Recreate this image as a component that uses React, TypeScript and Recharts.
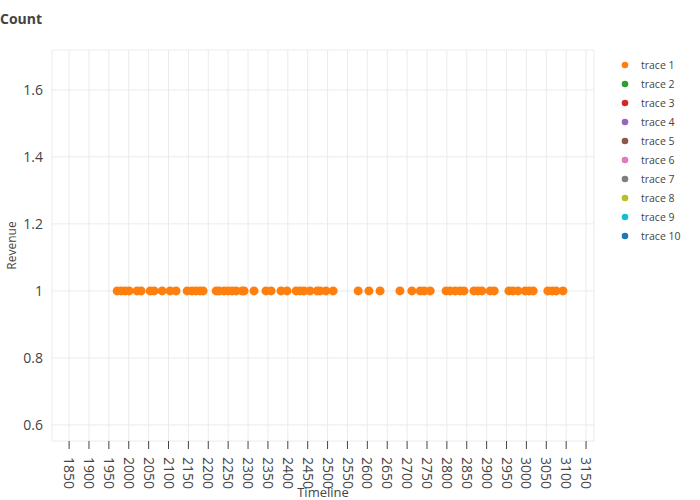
import { CartesianGrid, Scatter, ScatterChart, XAxis, YAxis, ZAxis } from "recharts";

const timeline = [
    1971, 1981, 1991, 2001, 2021, 2031, 2054, 2064, 2084, 2104, 2119, 2147, 2159, 2169, 2179, 2187,
    2220, 2227, 2240, 2250, 2260, 2270, 2285, 2290, 2315, 2345, 2358, 2383, 2398, 2421, 2431, 2441,
    2456, 2474, 2481, 2496, 2514, 2577, 2604, 2632, 2682, 2712, 2733, 2743, 2758, 2798, 2808, 2821,
    2833, 2843, 2868, 2878, 2888, 2909, 2919, 2956, 2966, 2979, 2997, 3007, 3017, 3054, 3065, 3075, 3092,
];
const revenue = timeline.map(() => 1);

const traceNames = ["trace 1", "trace 2", "trace 3", "trace 4", "trace 5", "trace 6", "trace 7", "trace 8", "trace 9", "trace 10"];
const traceColors = ["#ff7f0e", "#2ca02c", "#d62728", "#9467bd", "#8c564b", "#e377c2", "#7f7f7f", "#bcbd22", "#17becf", "#1f77b4"];

const xTicks = [1850, 1900, 1950, 2000, 2050, 2100, 2150, 2200, 2250, 2300, 2350, 2400, 2450, 2500, 2550, 2600,
    2650, 2700, 2750, 2800, 2850, 2900, 2950, 3000, 3050, 3100, 3150];
const yTicks = [0.6, 0.8, 1, 1.2, 1.4, 1.6];

const FONT = '"Open Sans", "Noto Sans", sans-serif';

const trace1 = timeline.map((t, i) => ({ x: t, y: revenue[i] }));

const XTick = (props: any) => {
    const { x, y, payload } = props;
    return (
        <g transform={`translate(${x},${y})`}>
            <text transform="rotate(90)" textAnchor="start" dy="0.35em" fontSize={14} fill="#444" fontFamily={FONT}>
                {payload.value}
            </text>
        </g>
    );
};

// legend drawn by hand so it keeps trace order and doesn't eat plot width
const TraceLegend = () => (
    <div style={{ position: "absolute", left: 621, top: 55, fontFamily: FONT, fontSize: 10.5, color: "#444" }}>
        {traceNames.map((name, i) => (
            <div key={name} style={{ display: "flex", alignItems: "center", height: 19 }}>
                <svg width={8} height={8} style={{ marginRight: 12 }}>
                    <circle cx={4} cy={4} r={3.3} fill={traceColors[i]} />
                </svg>
                <span>{name}</span>
            </div>
        ))}
    </div>
);

export default function App() {
    return (
        <div style={{ position: "absolute", left: 0, top: 0, width: 700, height: 500, background: "#fff" }}>
            <div style={{ position: "absolute", left: 0, top: 9, fontFamily: FONT, fontSize: 14, fontWeight: 700, color: "#444" }}>
                Count
            </div>
            <ScatterChart width={700} height={500} margin={{ top: 50, right: 106, left: 0, bottom: 0 }}>
                <CartesianGrid stroke="#ebebeb" strokeWidth={1} />
                <XAxis
                    type="number"
                    dataKey="x"
                    domain={[1807, 3170]}
                    ticks={xTicks}
                    interval={0}
                    height={59}
                    axisLine={false}
                    tickLine={{ stroke: "#444" }}
                    tickSize={8}
                    tickMargin={8}
                    tick={<XTick />}
                    allowDataOverflow
                    label={{ value: "Timeline", position: "insideBottom", offset: 3, fill: "#444", fontSize: 13, fontFamily: FONT }}
                />
                <YAxis
                    type="number"
                    dataKey="y"
                    domain={[0.552, 1.719]}
                    ticks={yTicks}
                    interval={0}
                    width={52}
                    axisLine={false}
                    tickLine={false}
                    tickMargin={3}
                    allowDataOverflow
                    tick={{ fill: "#444", fontSize: 14, fontFamily: FONT }}
                    label={{ value: "Revenue", angle: -90, position: "insideLeft", offset: 12, fill: "#444", fontSize: 12, fontFamily: FONT, style: { textAnchor: "middle" } }}
                />
                <ZAxis range={[40, 40]} />
                {traceNames.map((name, i) => (
                    <Scatter
                        key={name}
                        name={name}
                        data={i === 0 ? trace1 : []}
                        fill={traceColors[i]}
                        isAnimationActive={false}
                    />
                ))}
            </ScatterChart>
            <TraceLegend />
        </div>
    );
}
